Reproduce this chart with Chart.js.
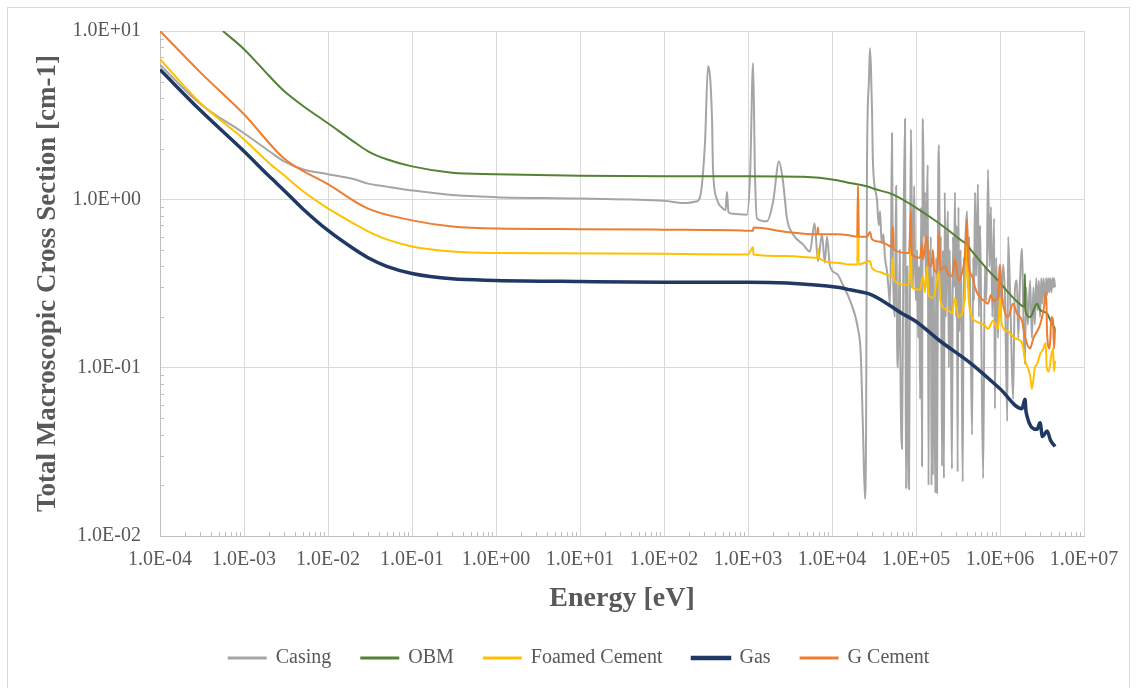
<!DOCTYPE html>
<html>
<head>
<meta charset="utf-8">
<script src="https://cdn.jsdelivr.net/npm/chart.js@4.4.1/dist/chart.umd.min.js"></script>
<style>
  html, body { margin: 0; padding: 0; background: #fff; }
  #wrap { width: 1137px; height: 688px; }
</style>
</head>
<body>
<div id="wrap"><canvas id="chart" width="1137" height="688"></canvas></div>
<script>
// tick values (decades)
const xDecades = [1e-4, 1e-3, 1e-2, 1e-1, 1e0, 1e1, 1e2, 1e3, 1e4, 1e5, 1e6, 1e7];
const yDecades = [1e-2, 1e-1, 1e0, 1e1];

// Casing
const casingE = [
  1e-4, 3e-4, 1e-3, 2e-3, 3e-3, 5e-3, 1e-2, 2e-2, 3e-2, 5e-2,
  0.1, 0.3, 1, 10, 100, 182, 240, 268, 308, 334,
  373, 383, 427, 504, 540, 562, 585, 663, 973, 1060,
  1150, 1210, 1280, 1680, 1990, 2340, 2610, 2910, 3430, 4520,
  5470, 6200, 6810, 7600, 8200, 8710, 9470, 1.15e4, 1.35e4, 1.64e4,
  2.04e4, 2.2e4, 2.34e4, 2.47e4, 2.55e4, 2.61e4, 2.75e4, 2.83e4, 2.91e4, 2.99e4,
  3.08e4, 3.43e4, 3.6e4, 3.73e4, 3.9e4, 4.1e4, 4.27e4, 4.5e4, 4.7e4, 4.9e4,
  5.05e4, 5.18e4, 5.25e4, 5.32e4, 5.6e4, 5.8e4, 5.95e4, 6.11e4, 6.4e4, 6.55e4,
  6.81e4, 7.1e4, 7.4e4, 7.5e4, 7.6e4, 7.9e4, 8.05e4, 8.26e4, 8.5e4, 8.71e4,
  8.9e4, 9.2e4, 9.5e4, 9.73e4, 1.0e5, 1.03e5, 1.06e5, 1.09e5, 1.12e5, 1.15e5,
  1.18e5, 1.2e5, 1.21e5, 1.25e5, 1.28e5, 1.31e5, 1.35e5, 1.38e5, 1.41e5, 1.44e5,
  1.47e5, 1.5e5, 1.53e5, 1.56e5, 1.59e5, 1.62e5, 1.65e5, 1.7e5, 1.74e5, 1.78e5,
  1.83e5, 1.88e5, 1.93e5, 1.98e5, 2.04e5, 2.09e5, 2.15e5, 2.2e5, 2.26e5, 2.33e5,
  2.4e5, 2.46e5, 2.52e5, 2.6e5, 2.68e5, 2.75e5, 2.83e5, 2.91e5, 3.0e5, 3.06e5,
  3.13e5, 3.2e5, 3.28e5, 3.4e5, 3.5e5, 3.6e5, 3.7e5, 3.8e5, 3.9e5, 4.05e5,
  4.15e5, 4.3e5, 4.45e5, 4.65e5, 4.8e5, 4.9e5, 5.04e5, 5.2e5, 5.35e5, 5.47e5,
  5.6e5, 5.8e5, 6.0e5, 6.3e5, 6.6e5, 6.9e5, 7.2e5, 7.5e5, 7.8e5, 8.1e5,
  8.5e5, 8.7e5, 9.0e5, 9.47e5, 9.8e5, 1.02e6, 1.09e6, 1.15e6, 1.22e6, 1.25e6,
  1.34e6, 1.43e6, 1.5e6, 1.59e6, 1.65e6, 1.72e6, 1.83e6, 1.9e6, 1.98e6, 2.05e6,
  2.15e6, 2.28e6, 2.4e6, 2.5e6, 2.6e6, 2.7e6, 2.8e6, 2.9e6, 3.0e6, 3.1e6,
  3.2e6, 3.3e6, 3.45e6, 3.55e6, 3.63e6, 3.75e6, 3.85e6, 3.95e6, 4.1e6, 4.2e6,
  4.3e6, 4.4e6, 4.52e6];
const casingSigma = [
  6.3, 3.7, 2.47, 1.93, 1.68, 1.51, 1.41, 1.32, 1.24, 1.19,
  1.13, 1.06, 1.03, 1.01, 0.98, 0.95, 0.97, 1.03, 2.2, 6.2,
  3.0, 1.53, 1.0, 0.88, 0.86, 1.11, 0.84, 0.82, 0.81, 1.41,
  6.45, 1.41, 0.77, 0.74, 0.97, 1.68, 1.28, 0.77, 0.62, 0.54,
  0.49, 0.72, 0.43, 0.62, 0.42, 0.6, 0.4, 0.36, 0.31, 0.25,
  0.17, 0.12, 0.042, 0.0166, 0.05, 1.6, 5.0, 7.9, 6.0, 3.5,
  1.6, 1.0, 0.7, 0.85, 0.55, 0.62, 0.45, 0.38, 0.3, 0.24,
  0.6, 2.47, 0.8, 0.41, 0.2, 1.2, 0.15, 0.1, 0.5, 0.08,
  0.033, 0.6, 3.0, 0.3, 0.019, 0.4, 0.03, 0.019, 0.5, 2.6,
  0.9, 0.3, 1.2, 0.41, 0.25, 0.5, 0.15, 0.4, 0.065, 0.9,
  0.026, 2.2, 3.0, 0.6, 1.1, 0.3, 0.9, 1.6, 0.02, 0.5,
  0.164, 0.6, 0.02, 0.35, 0.023, 0.4, 0.1, 0.018, 0.45, 0.018,
  0.9, 2.1, 0.3, 0.6, 0.026, 0.5, 0.022, 1.1, 0.2, 0.5,
  0.85, 0.1, 0.5, 0.15, 0.025, 0.6, 0.3, 1.1, 0.2, 0.7,
  0.024, 0.9, 0.164, 0.5, 0.12, 0.021, 0.45, 0.25, 0.6, 0.85,
  0.3, 0.6, 0.2, 0.04, 0.45, 0.25, 1.1, 0.35, 0.7, 1.23,
  0.2, 0.7, 0.15, 0.022, 0.4, 0.25, 1.5, 0.4, 0.9, 0.2,
  0.77, 0.057, 0.45, 0.15, 0.4, 0.2, 0.41, 0.25, 0.048, 0.6,
  0.2, 0.065, 0.28, 0.33, 0.15, 0.3, 0.51, 0.2, 0.105, 0.3,
  0.18, 0.33, 0.15, 0.3, 0.18, 0.34, 0.22, 0.33, 0.2, 0.34,
  0.24, 0.34, 0.25, 0.34, 0.27, 0.34, 0.28, 0.34, 0.28, 0.34,
  0.3, 0.34, 0.3];

// OBM
const obmE = [5.6e-4, 1e-3, 2e-3, 3e-3, 5e-3, 1e-2, 2e-2, 3e-2, 5e-2, 0.1, 0.3, 1, 10, 100, 1000, 4520, 1.15e4, 1.64e4, 2.83e4, 3.08e4, 5.3e4, 9.73e4, 1.5e5, 2.2e5, 3.3e5, 4.0e5, 4.65e5, 7.2e5, 1.0e6, 1.25e6, 1.7e6, 1.95e6, 1.98e6, 2.0e6, 2.28e6, 2.76e6, 3.0e6, 3.63e6, 4.0e6, 4.52e6];
const obmSigma = [10, 7.8, 5.4, 4.4, 3.6, 2.83, 2.21, 1.93, 1.73, 1.57, 1.44, 1.41, 1.38, 1.37, 1.37, 1.36, 1.3, 1.25, 1.18, 1.16, 1.07, 0.9, 0.78, 0.68, 0.58, 0.54, 0.49, 0.38, 0.32, 0.28, 0.24, 0.23, 0.36, 0.22, 0.2, 0.24, 0.22, 0.21, 0.19, 0.17];

// Foamed Cement
const foamE = [1e-4, 3e-4, 1e-3, 2e-3, 3e-3, 5e-3, 1e-2, 2e-2, 3e-2, 5e-2, 0.1, 0.3, 1, 100, 1000, 1150, 1160, 2910, 6700, 6810, 6900, 1.15e4, 1.64e4, 2.0e4, 2.04e4, 2.08e4, 2.83e4, 2.99e4, 3.73e4, 5.18e4, 5.32e4, 5.45e4, 8.26e4, 8.71e4, 8.9e4, 1.12e5, 1.21e5, 1.28e5, 1.35e5, 1.41e5, 1.6e5, 1.88e5, 1.95e5, 2.4e5, 2.68e5, 2.91e5, 3.2e5, 3.8e5, 4.05e5, 4.2e5, 4.65e5, 5.04e5, 6.45e5, 7.2e5, 8.26e5, 9.47e5, 1.0e6, 1.05e6, 1.25e6, 1.5e6, 1.83e6, 2.0e6, 2.28e6, 2.4e6, 2.6e6, 2.76e6, 3.0e6, 3.3e6, 3.5e6, 3.6e6, 3.8e6, 4.1e6, 4.28e6, 4.4e6, 4.52e6];
const foamSigma = [6.8, 3.75, 2.27, 1.64, 1.39, 1.12, 0.883, 0.72, 0.645, 0.578, 0.525, 0.49, 0.48, 0.475, 0.47, 0.52, 0.47, 0.46, 0.45, 0.51, 0.45, 0.42, 0.41, 0.41, 1.2, 0.41, 0.43, 0.39, 0.37, 0.35, 0.45, 0.33, 0.31, 0.51, 0.3, 0.29, 0.35, 0.28, 0.4, 0.27, 0.26, 0.37, 0.25, 0.22, 0.21, 0.26, 0.2, 0.26, 0.54, 0.28, 0.2, 0.19, 0.18, 0.17, 0.19, 0.17, 0.26, 0.18, 0.164, 0.15, 0.14, 0.11, 0.09, 0.075, 0.1, 0.105, 0.12, 0.13, 0.14, 0.1, 0.095, 0.12, 0.13, 0.095, 0.11];

// Gas
const gasE = [1e-4, 3e-4, 1e-3, 2e-3, 3e-3, 5e-3, 1e-2, 2e-2, 3e-2, 5e-2, 0.1, 0.3, 1, 10, 100, 1000, 2910, 1.15e4, 1.64e4, 3e4, 6.8e4, 1e5, 1.9e5, 4.6e5, 1e6, 1.83e6, 1.98e6, 2.05e6, 2.76e6, 3.0e6, 3.2e6, 3.63e6, 4.0e6, 4.52e6];
const gasSigma = [5.9, 3.39, 1.93, 1.37, 1.13, 0.88, 0.653, 0.51, 0.45, 0.4, 0.363, 0.337, 0.33, 0.325, 0.322, 0.322, 0.318, 0.3, 0.29, 0.27, 0.21, 0.188, 0.145, 0.105, 0.075, 0.057, 0.065, 0.054, 0.043, 0.047, 0.039, 0.042, 0.037, 0.034];

// G Cement
const gcemE = [1e-4, 3e-4, 1e-3, 3e-3, 1e-2, 3e-2, 0.1, 0.3, 1, 10, 100, 663, 1150, 1160, 2910, 6700, 6810, 6900, 8710, 1.15e4, 1.64e4, 2.0e4, 2.04e4, 2.08e4, 2.61e4, 2.83e4, 2.99e4, 3.73e4, 4.5e4, 5.18e4, 5.32e4, 5.45e4, 8.26e4, 8.71e4, 8.9e4, 1.12e5, 1.18e5, 1.21e5, 1.35e5, 1.41e5, 1.53e5, 1.59e5, 1.65e5, 1.78e5, 1.88e5, 1.95e5, 2.21e5, 2.4e5, 2.68e5, 2.91e5, 3.2e5, 3.5e5, 3.8e5, 4.05e5, 4.2e5, 4.65e5, 5.04e5, 5.5e5, 6.45e5, 7.2e5, 7.8e5, 8.26e5, 9.47e5, 1.0e6, 1.05e6, 1.25e6, 1.43e6, 1.59e6, 1.83e6, 2.0e6, 2.28e6, 2.5e6, 2.76e6, 3.0e6, 3.3e6, 3.55e6, 3.63e6, 3.9e6, 4.1e6, 4.28e6, 4.4e6, 4.52e6];
const gcemSigma = [10, 5.7, 3.2, 1.75, 1.23, 0.88, 0.75, 0.69, 0.67, 0.665, 0.66, 0.655, 0.65, 0.68, 0.64, 0.62, 0.68, 0.62, 0.62, 0.62, 0.61, 0.6, 1.2, 0.6, 0.6, 0.64, 0.58, 0.56, 0.54, 0.52, 0.69, 0.5, 0.48, 0.85, 0.47, 0.45, 0.55, 0.44, 0.6, 0.42, 0.4, 0.5, 0.38, 0.37, 0.64, 0.38, 0.4, 0.36, 0.35, 0.44, 0.33, 0.36, 0.45, 0.76, 0.42, 0.35, 0.3, 0.27, 0.25, 0.24, 0.27, 0.25, 0.26, 0.41, 0.28, 0.2, 0.24, 0.21, 0.19, 0.15, 0.13, 0.15, 0.164, 0.18, 0.22, 0.28, 0.16, 0.13, 0.2, 0.19, 0.13, 0.17];

const toPoints = (xs, ys) => xs.map((x, i) => ({ x: x, y: ys[i] }));

function sciLabel(v) {
    const e = Math.round(Math.log10(v));
    return '1.0E' + (e < 0 ? '-' : '+') + String(Math.abs(e)).padStart(2, '0');
}

const textGray = '#595959';
const serif = 'Liberation Serif';
const legendBottomPad = 10;

function series(label, xs, ys, color, width, order) {
    return {
        label: label,
        data: toPoints(xs, ys),
        borderColor: color,
        backgroundColor: color,
        borderWidth: width,
        showLine: true,
        pointRadius: 0,
        cubicInterpolationMode: 'monotone',
        order: order,
    };
}

const ctx = document.getElementById('chart');

new Chart(ctx, {
    type: 'scatter',
    data: {
        datasets: [
            series('Casing', casingE, casingSigma, '#A5A5A5', 2, 5),
            series('OBM', obmE, obmSigma, '#548235', 2, 4),
            series('Foamed Cement', foamE, foamSigma, '#FFC000', 2, 3),
            series('Gas', gasE, gasSigma, '#203864', 3.5, 1),
            series('G Cement', gcemE, gcemSigma, '#ED7D31', 2, 2),
        ],
    },
    options: {
        responsive: false,
        animation: false,
        layout: { padding: { left: 74, right: 53, top: 30, bottom: legendBottomPad } },
        scales: {
            x: {
                type: 'logarithmic',
                min: 1e-4,
                max: 1e7,
                grid: { color: '#d9d9d9', drawTicks: false },
                border: { color: '#bfbfbf' },
                afterBuildTicks: (scale) => { scale.ticks = xDecades.map(v => ({ value: v })); },
                afterFit: (scale) => {
                    const lg = scale.chart.legend ? scale.chart.legend.height : 60;
                    scale.height = scale.chart.height - legendBottomPad - lg - 536;
                },
                ticks: {
                    autoSkip: false,
                    maxRotation: 0,
                    padding: 12,
                    color: textGray,
                    font: { family: serif, size: 20 },
                    callback: (value) => sciLabel(value),
                },
                title: {
                    display: true,
                    text: 'Energy [eV]',
                    color: textGray,
                    font: { family: serif, size: 28, weight: 'bold' },
                    padding: { top: 0, bottom: 2 },
                },
            },
            y: {
                type: 'logarithmic',
                min: 1e-2,
                max: 1e1,
                grid: { color: '#d9d9d9', drawTicks: false },
                border: { color: '#bfbfbf' },
                afterBuildTicks: (scale) => { scale.ticks = yDecades.map(v => ({ value: v })); },
                afterFit: (scale) => { scale.width = 160 - 74; },
                ticks: {
                    autoSkip: false,
                    padding: 19,
                    color: textGray,
                    font: { family: serif, size: 20 },
                    callback: (value) => sciLabel(value),
                },
                title: {
                    display: true,
                    text: 'Total Macroscopic Cross Section [cm-1]',
                    color: textGray,
                    font: { family: serif, size: 27, weight: 'bold' },
                    padding: { top: -42, bottom: 0 },
                },
            },
        },
        plugins: {
            legend: {
                position: 'bottom',
                labels: {
                    boxWidth: 37,
                    boxHeight: 1,
                    padding: 30,
                    color: textGray,
                    font: { family: serif, size: 20 },
                    sort: (a, b) => a.datasetIndex - b.datasetIndex,
                },
            },
            tooltip: { enabled: false },
        },
    },
    plugins: [
        {
            id: 'frameAndMinorTicks',
            afterDraw(chart) {
                const { ctx, scales: { x, y }, chartArea: { left, bottom } } = chart;
                ctx.save();
                ctx.strokeStyle = '#bfbfbf';
                ctx.lineWidth = 1;
                ctx.beginPath();
                for (let i = 0; i < xDecades.length - 1; i++) {
                    for (let m = 2; m <= 9; m++) {
                        const px = Math.round(x.getPixelForValue(m * xDecades[i])) + 0.5;
                        ctx.moveTo(px, bottom);
                        ctx.lineTo(px, bottom - 4);
                    }
                }
                for (let i = 0; i < yDecades.length - 1; i++) {
                    for (let m = 2; m <= 9; m++) {
                        const py = Math.round(y.getPixelForValue(m * yDecades[i])) + 0.5;
                        ctx.moveTo(left, py);
                        ctx.lineTo(left + 4, py);
                    }
                }
                ctx.stroke();
                ctx.strokeStyle = '#d9d9d9';
                ctx.strokeRect(7.5, 7.5, 1122, 700);
                ctx.restore();
            },
        },
    ],
});
</script>
</body>
</html>
